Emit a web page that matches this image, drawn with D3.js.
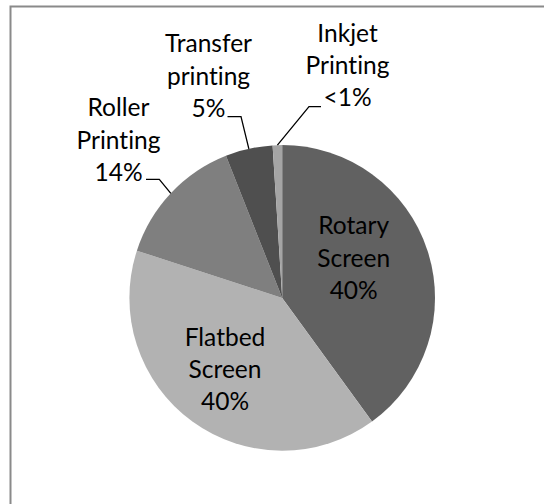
<!DOCTYPE html>
<html><head><meta charset="utf-8">
<script src="https://cdn.jsdelivr.net/npm/d3@7"></script>
<style>html,body{margin:0;padding:0;background:#fff;}svg{display:block;}
text{font-variant-ligatures:none;font-feature-settings:"liga" 0, "clig" 0;}</style>
</head><body>
<script>
// ---- data ----
const categories = ["Rotary Screen", "Flatbed Screen", "Roller Printing", "Transfer printing", "Inkjet Printing"];
const values = [40, 40, 14, 5, 1];
const labelLines = [["Rotary", "Screen"], ["Flatbed", "Screen"], ["Roller", "Printing"], ["Transfer", "printing"], ["Inkjet", "Printing"]];
const percentLabels = ["40%", "40%", "14%", "5%", "<1%"];
const colors = ["#616161", "#b2b2b2", "#7f7f7f", "#4f4f4f", "#a5a5a5"];

// ---- layout (label placement relative to pie centre) ----
const W = 544, H = 504;
const cx = 282.2, cy = 297.9, R = 152.8;
const lineH = 32.2;
const labelLayout = [
  {inside: true, x: 71.5, y: -39.9},
  {inside: true, x: -57.2, y: 71.3},
  {inside: false, x: -163.7, yLast: -117.2, elbowX: -122.9, elbowY: -118.6, hx: -136.2},
  {inside: false, x: -73.7, yLast: -181.2, elbowX: -41.2, elbowY: -181.2, hx: -54.7},
  {inside: false, x: 65.3, yLast: -191.9, elbowX: 26.8, elbowY: -191.2, hx: 38.8}
];

const svg = d3.select("body").append("svg").attr("width", W).attr("height", H);

// frame
svg.append("path").attr("d", `M10.5,${H} V6.5 H${W}`)
  .attr("fill", "none").attr("stroke", "#8a8a8a").attr("stroke-width", 2);

const g = svg.append("g").attr("transform", `translate(${cx},${cy})`);

const pie = d3.pie().sort(null).value(d => d);
const arcs = pie(values);
const arc = d3.arc().innerRadius(0).outerRadius(R);
const edgeArc = d3.arc().innerRadius(R).outerRadius(R);

g.selectAll("path.slice").data(arcs).join("path")
  .attr("class", "slice")
  .attr("d", arc)
  .attr("fill", (d, i) => colors[i]);

// font size fitted so that "Printing" is ~84px wide
const fontFamily = "Lato, 'Open Sans', sans-serif";
const probe = svg.append("text").attr("font-family", fontFamily).attr("font-size", 100).text("Printing");
const probeLen = probe.node().getComputedTextLength();
probe.remove();
const fontSize = 100 * 84 / probeLen;

const labels = g.append("g").attr("font-family", fontFamily).attr("font-size", fontSize).attr("fill", "#000").attr("text-anchor", "middle");

arcs.forEach((a, i) => {
  const L = labelLayout[i];
  const lines = labelLines[i].concat([percentLabels[i]]);
  if (L.inside) {
    const t = labels.append("text");
    lines.forEach((s, k) => {
      t.append("tspan").attr("x", L.x).attr("y", L.y + (k - 1) * lineH).attr("dy", "0.35em").text(s);
    });
  } else {
    const t = labels.append("text");
    lines.forEach((s, k) => {
      t.append("tspan").attr("x", L.x).attr("y", L.yLast + (k - 2) * lineH).text(s);
    });
    const edge = edgeArc.centroid(a);
    g.append("polyline")
      .attr("points", [[L.hx, L.elbowY], [L.elbowX, L.elbowY], edge].map(p => p.join(",")).join(" "))
      .attr("fill", "none").attr("stroke", "#000").attr("stroke-width", 1.3);
  }
});
</script>
</body></html>
